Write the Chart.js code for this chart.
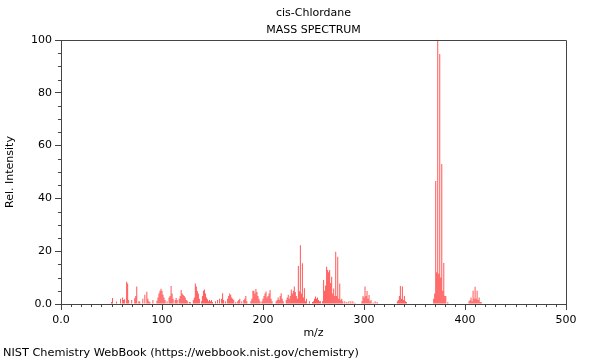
<!DOCTYPE html>
<html>
<head>
<meta charset="utf-8">
<script src="https://cdn.jsdelivr.net/npm/chart.js@4"></script>
<style>
    html, body { margin: 0; padding: 0; background: #fff; }
    #wrap { width: 600px; height: 360px; }
</style>
</head>
<body>
<div id="wrap"><canvas id="msChart" width="600" height="360"></canvas></div>
<script>
// Spectrum data (m/z and relative intensity)
const massToCharge = [
    50, 51, 55, 59, 61, 62, 63, 65, 66, 67, 70, 73, 74, 75, 77, 78, 81, 83, 85, 86, 87, 88, 91,
    95, 96, 97, 98, 99, 100, 101, 102, 103, 105, 107, 108, 109, 110, 111, 113, 114, 115,
    117, 118, 119, 120, 121, 122, 123, 124, 125, 127, 128, 131, 132, 133, 134, 135, 136, 137,
    139, 140, 141, 142, 143, 144, 145, 146, 147, 148, 149, 150, 153, 155, 157, 159, 160, 161,
    163, 165, 166, 167, 168, 169, 170, 171, 173, 175, 176, 177, 179, 181, 182, 183, 184,
    188, 189, 190, 191, 192, 193, 194, 195, 196, 197, 199, 200, 201, 202, 203, 204, 205, 206,
    207, 208, 209, 213, 214, 215, 216, 217, 218, 219, 220, 223, 224, 225, 226, 227, 228, 229,
    230, 231, 232, 233, 234, 235, 236, 237, 238, 239, 240, 241, 242, 243, 246, 249, 250, 251,
    252, 253, 254, 255, 256, 257, 259, 260, 261, 262, 263, 264, 265, 266, 267, 268, 269, 270,
    271, 272, 273, 274, 275, 276, 277, 278, 279, 281, 283, 285, 287, 289, 291, 298, 299, 300,
    301, 302, 303, 304, 305, 306, 307, 309, 311, 313, 333, 334, 335, 336, 337, 338, 339, 340,
    341, 342, 369, 370, 371, 372, 373, 374, 375, 376, 377, 378, 379, 380, 381, 383,
    404, 405, 406, 407, 408, 409, 410, 411, 412, 413, 414, 415, 416
];
const relIntensity = [
    0.8, 2.3, 0.9, 2.0, 2.5, 1.5, 1.8, 8.4, 7.8, 1.5, 1.5, 2.2, 3.0, 6.6, 1.0, 0.9, 2.0, 3.5, 4.6, 2.0, 1.0, 0.8, 1.5,
    1.2, 2.5, 4.0, 5.0, 5.8, 5.0, 3.5, 2.5, 1.5, 1.0, 2.5, 3.0, 6.8, 4.0, 2.0, 1.5, 2.3, 1.5,
    2.0, 3.0, 5.3, 4.0, 3.4, 3.0, 2.5, 1.5, 1.2, 0.8, 0.8, 1.5, 2.5, 7.8, 6.6, 4.9, 4.0, 2.0,
    1.0, 3.0, 5.0, 5.5, 4.0, 2.5, 1.8, 1.0, 1.5, 1.0, 1.5, 0.8, 1.0, 1.5, 2.0, 2.0, 4.1, 1.5,
    1.0, 2.0, 3.0, 4.0, 3.5, 2.5, 2.0, 1.5, 0.8, 1.0, 1.5, 2.0, 1.0, 1.5, 2.0, 3.0, 1.0,
    1.0, 2.0, 5.0, 5.0, 4.0, 5.7, 4.5, 3.0, 2.0, 1.0, 1.0, 2.0, 3.0, 4.0, 4.7, 2.5, 3.0, 4.0,
    5.3, 2.0, 1.0, 1.0, 1.5, 2.5, 1.5, 3.0, 4.1, 2.0, 1.0, 1.5, 2.5, 3.5, 2.0, 3.0, 5.5, 4.0,
    5.0, 6.6, 4.5, 3.0, 2.0, 14.4, 4.8, 22.3, 4.0, 15.4, 2.5, 6.0, 1.0, 2.0, 1.0, 0.8, 1.0, 2.0,
    2.8, 2.0, 2.5, 1.5, 1.0, 1.0, 1.0, 9.1, 5.0, 7.0, 14.1, 12.9, 12.0, 12.9, 8.0, 10.3, 4.0, 5.9,
    3.0, 19.8, 3.0, 17.9, 2.0, 7.8, 1.5, 2.0, 1.0, 1.0, 0.8, 1.0, 1.0, 1.0, 0.5, 1.0, 3.0, 2.5,
    6.6, 3.0, 4.9, 2.0, 3.4, 1.0, 1.5, 0.6, 1.0, 0.8, 1.0, 1.5, 3.0, 6.8, 2.0, 6.6, 1.5, 3.0,
    1.0, 0.8, 2.0, 4.0, 46.6, 12.0, 100, 11.5, 94.7, 10.0, 53.0, 5.0, 15.5, 3.0, 3.0, 0.8,
    1.0, 1.5, 2.5, 1.0, 5.0, 2.0, 6.5, 2.0, 5.0, 1.5, 2.5, 0.8, 0.8
];

// Axis ticks
const xMajorStep = 100;
const xMinorStep = 10;
const yMajorStep = 20;
const yMinorStep = 5;

const titleText = 'cis-Chlordane';
const subTitleText = 'MASS SPECTRUM';
const footerText = 'NIST Chemistry WebBook (https://webbook.nist.gov/chemistry)';

const FONT = "'DejaVu Sans', sans-serif";
const AXIS_COLOR = '#444';

// Titles, footer, frame and minor ticks
const decorPlugin = {
    id: 'decor',
    afterDraw(chart) {
        const ctx = chart.ctx;
        const area = chart.chartArea;
        const xs = chart.scales.x;
        const ys = chart.scales.y;
        ctx.save();

        // frame top + right
        ctx.strokeStyle = AXIS_COLOR;
        ctx.lineWidth = 1;
        ctx.beginPath();
        ctx.moveTo(area.left, area.top + 0.5);
        ctx.lineTo(area.right + 0.5, area.top + 0.5);
        ctx.lineTo(area.right + 0.5, area.bottom);
        ctx.stroke();

        // minor ticks
        ctx.beginPath();
        for (let v = 0; v <= xs.max; v += xMinorStep) {
            if (v % xMajorStep === 0) continue;
            const px = Math.round(xs.getPixelForValue(v)) + 0.5;
            ctx.moveTo(px, area.bottom);
            ctx.lineTo(px, area.bottom + 3);
        }
        for (let v = 0; v <= ys.max; v += yMinorStep) {
            if (v % yMajorStep === 0) continue;
            const py = Math.round(ys.getPixelForValue(v)) + 0.5;
            ctx.moveTo(area.left, py);
            ctx.lineTo(area.left - 3, py);
        }
        ctx.stroke();

        // text
        ctx.fillStyle = '#000';
        ctx.font = '11px ' + FONT;
        ctx.textBaseline = 'middle';
        ctx.textAlign = 'center';
        const cx = (area.left + area.right) / 2;
        ctx.fillText(titleText, cx, 13);
        ctx.fillText(subTitleText, cx, 30);
        ctx.textAlign = 'left';
        ctx.font = '11.3px ' + FONT;
        ctx.fillText(footerText, 3, 353);
        ctx.restore();
    }
};

const tickLabel = v => (v === 0 ? '0.0' : String(v));

new Chart(document.getElementById('msChart'), {
    type: 'bar',
    data: {
        datasets: [{
            data: massToCharge.map((m, i) => ({ x: m, y: relIntensity[i] })),
            backgroundColor: 'rgba(255, 0, 0, 0.66)',
            borderWidth: 0,
            barThickness: 1,
            inflateAmount: 0,
            grouped: false
        }]
    },
    options: {
        responsive: false,
        animation: false,
        layout: { padding: { top: 40, right: 34, left: 0, bottom: 16 } },
        plugins: {
            legend: { display: false },
            tooltip: { enabled: false }
        },
        scales: {
            x: {
                type: 'linear',
                min: 0,
                max: 500,
                offset: false,
                afterFit: s => { s.height = 40; },
                grid: { offset: false, drawOnChartArea: false, tickLength: 6, color: AXIS_COLOR },
                border: { color: AXIS_COLOR },
                ticks: {
                    stepSize: xMajorStep,
                    color: '#000',
                    padding: 4,
                    maxRotation: 0,
                    font: { family: FONT, size: 11 },
                    callback: tickLabel
                },
                title: {
                    display: true,
                    text: 'm/z',
                    color: '#000',
                    font: { family: FONT, size: 11 }
                }
            },
            y: {
                min: 0,
                max: 100,
                afterFit: s => { s.width = 61; },
                grid: { drawOnChartArea: false, tickLength: 6, color: AXIS_COLOR },
                border: { color: AXIS_COLOR },
                ticks: {
                    stepSize: yMajorStep,
                    color: '#000',
                    padding: 3,
                    font: { family: FONT, size: 11 },
                    callback: tickLabel
                },
                title: {
                    display: true,
                    text: 'Rel. Intensity',
                    color: '#000',
                    font: { family: FONT, size: 11 }
                }
            }
        }
    },
    plugins: [decorPlugin]
});
</script>
</body>
</html>
